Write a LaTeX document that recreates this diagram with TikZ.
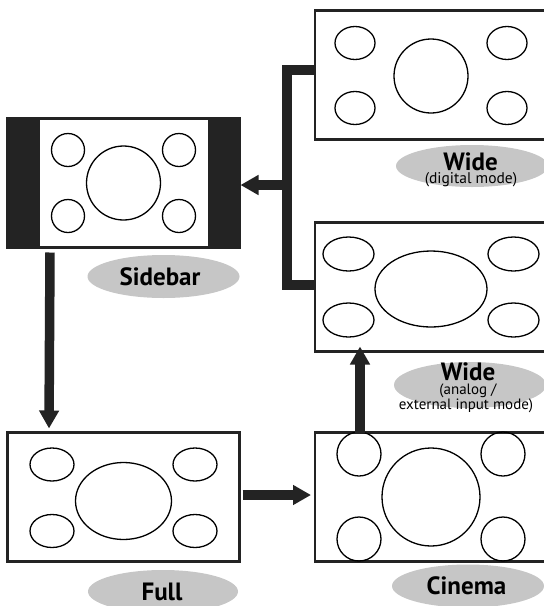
\documentclass[tikz,border=0pt]{standalone}
\usepackage{fontspec}
\setmainfont{PT Sans}
\usetikzlibrary{arrows.meta,shapes.geometric}
\definecolor{dark}{RGB}{35,35,35}
\definecolor{tagfill}{RGB}{198,198,198}
\begin{document}
\begin{tikzpicture}[x=1pt,y=-1pt,
  screen/.style={rectangle,draw=dark,line width=2.5pt,fill=white,minimum width=232pt,minimum height=129pt,inner sep=0pt,outer sep=0pt},
  rscreen/.style={screen,minimum width=236pt},
  dish/.style={draw=black,line width=1.3pt},
  tag/.style={ellipse,fill=tagfill,minimum width=152pt,minimum height=43pt,inner sep=0pt},
  bigtxt/.style={anchor=base,inner sep=0pt,font=\bfseries\fontsize{25}{25}\selectfont},
  smalltxt/.style={anchor=base,inner sep=0pt,font=\fontsize{15.5}{15.5}\selectfont},
  bar/.style={draw=dark,line width=9.5pt},
  arr/.style={bar,-{Triangle[length=18pt,width=19pt]}}]
\useasboundingbox (0,0) rectangle (544,606);
\clip (0,0) rectangle (544,606);

% title fragment (cut off at the top edge)
\node[anchor=base,font=\bfseries\itshape\fontsize{24}{24}\selectfont,inner sep=0pt] (ttl) at (186,-7) {y};

% screens
\node[rscreen] (wd) at (433,75) {};
\node[rscreen] (wa) at (433,287) {};
\node[screen] (sb) at (123.5,183) {};
\node[screen] (fu) at (123.5,497) {};
\node[rscreen] (ci) at (433,497) {};

% sidebar black bars
\fill[dark] (sb.north west) rectangle (40,248);
\fill[dark] (208,118) rectangle (sb.south east);
\draw[draw=dark,line width=2.5pt] (sb.north west) rectangle (sb.south east);

% sidebar contents
\foreach \x in {68,179} \foreach \y in {150,216} \draw[dish] (\x,\y) circle[radius=16.5];
\draw[dish] (123.5,183) circle[radius=37];

% wide digital contents
\foreach \x in {355,507} \foreach \y in {43,108} \draw[dish] (\x,\y) ellipse[x radius=20,y radius=16.5];
\draw[dish] (431,76) circle[radius=37];

% wide analog contents
\foreach \x in {348.5,513.5} \foreach \y in {254,320} \draw[dish] (\x,\y) ellipse[x radius=25.5,y radius=17];
\draw[dish] (431,289) ellipse[x radius=56,y radius=38];

% full contents
\foreach \x in {52,195} \foreach \y in {464.5,531} \draw[dish] (\x,\y) ellipse[x radius=22,y radius=16.5];
\draw[dish] (123.5,501) ellipse[x radius=48,y radius=38.5];

% cinema contents
\foreach \x in {359,503} \foreach \y in {454,539} \draw[dish] (\x,\y) circle[radius=22];
\draw[dish] (431,497) circle[radius=49];

% label ovals
\node[tag] (sbo) at (163.5,276.5) {};
\node[tag,minimum width=150pt] (fuo) at (163,591.5) {};
\node[tag] (cio) at (468,586) {};
\node[tag,minimum height=42pt] (wdo) at (472,166) {};
\node[tag,minimum height=46pt] (wao) at (470,385) {};

% label texts
\node[bigtxt] (sbt) at (160,285) {Sidebar};
\node[bigtxt] (fut) at (162,600) {Full};
\node[bigtxt] (cit) at (466.5,594) {Cinema};
\node[bigtxt] (wdt) at (470.5,170) {Wide};
\node[smalltxt] (wds) at (471,183.5) {(digital mode)};
\node[bigtxt] (wat) at (468,380) {Wide};
\node[smalltxt,font=\fontsize{15}{15}\selectfont] (was) at (468,394) {(analog /};
\node[smalltxt,font=\fontsize{15}{15}\selectfont] (wae) at (466,409.5) {external input mode)};

% connectors
\draw[arr] ([shift={(42.5,5)}]sb.south west) -- ([shift={(41.5,-4)}]fu.north west);
\draw[arr] ([shift={(3,-2)}]fu.east) -- ([shift={(-4,-2)}]ci.west);
\draw[arr] (ci.north -| 360,0) -- ([yshift=5]wa.south -| 360,0);
\draw[bar,line join=miter] ([yshift=5]wd.west) -- ++(-28,0) |- ([yshift=2]wa.west);
\coordinate (j) at (287,185);
\draw[arr] (j) -- ([shift={(1,2)}]sb.east);
\end{tikzpicture}
\end{document}
